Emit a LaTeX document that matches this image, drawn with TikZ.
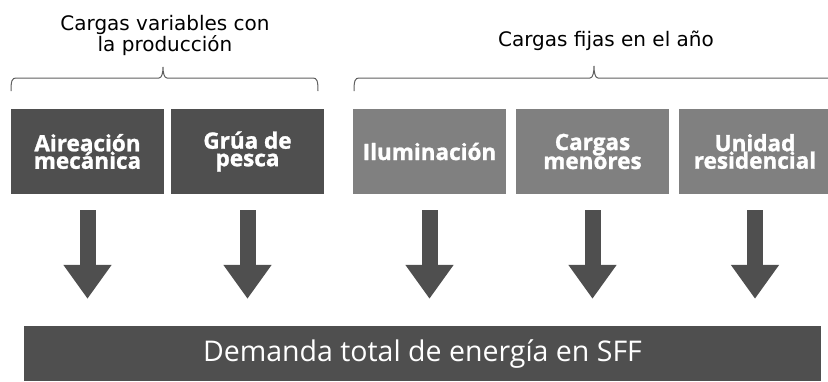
\documentclass[tikz,border=0pt]{standalone}
\usepackage{fontspec}
\setmainfont{Open Sans}
\newfontfamily\bracefont{DejaVu Sans}
\newfontfamily\boxfont[BoldFeatures={FakeBold=1.2}]{Open Sans}
\usetikzlibrary{arrows.meta}

\definecolor{cargaosc}{RGB}{79,79,79}
\definecolor{cargaclr}{RGB}{128,128,128}
\definecolor{llave}{RGB}{95,95,95}

\tikzset{
  carga/.style={minimum width=153pt,minimum height=85pt,inner sep=0pt,
    text=white,align=center,font=\boxfont\fontsize{22.5}{17.5}\selectfont\bfseries},
  flecha/.style={draw=cargaosc,line width=16pt,
    -{Triangle[width=46pt,length=34pt]},shorten <=16pt,shorten >=27pt},
  llavetxt/.style={inner sep=0.75pt,align=center,font=\bracefont\fontsize{20}{21}\selectfont}
}

\begin{document}
\begin{tikzpicture}[x=1pt,y=1pt,yscale=-1,xscale=1]
\useasboundingbox (0,0) rectangle (828,381);

% Text Node
\node[llavetxt] (txtvar) at (165,35) {Cargas variables con\\la producci\'on};
\node[llavetxt] (txtfij) at (606,41) {Cargas fijas en el a\~no};

%Shape: Brace
\draw[llave,line width=1pt] (11,91) .. controls (11,81) and (12,78) .. (16,78) -- (159,78) .. controls (162,78) and (163,72) .. (163,67) .. controls (163,72) and (164,78) .. (167,78) -- (313,78) .. controls (317,78) and (318,81) .. (318,91);
\draw[llave,line width=1pt] (354,91) .. controls (354,81) and (355,78) .. (359,78) -- (590,78) .. controls (593,78) and (594,72) .. (594,66) .. controls (594,72) and (595,78) .. (598,78) -- (832,78);

% Boxes
\node[carga,fill=cargaosc] (aire) at (87.5,151.5) {Aireaci\'on\\mec\'anica};
\node[carga,fill=cargaosc] (grua) at (247.5,151.5) {Gr\'ua de\\pesca};
\node[carga,fill=cargaclr] (ilum) at (429.5,151.5) {Iluminaci\'on};
\node[carga,fill=cargaclr] (menor) at (592.5,151.5) {Cargas\\menores};
\node[carga,fill=cargaclr] (resid) at (755,151.5) {Unidad\\residencial};

% Total demand
\node[fill=cargaosc,minimum width=797pt,minimum height=55pt,inner sep=0pt,
  text=white,font=\fontsize{28.5}{32}\selectfont] (total) at (422.5,353.5) {Demanda total de energ\'ia en SFF};

% Arrows
\foreach \c in {aire,grua,ilum,menor,resid}
  \draw[flecha] (\c.south) -- (\c.south |- total.north);

\end{tikzpicture}
\end{document}
